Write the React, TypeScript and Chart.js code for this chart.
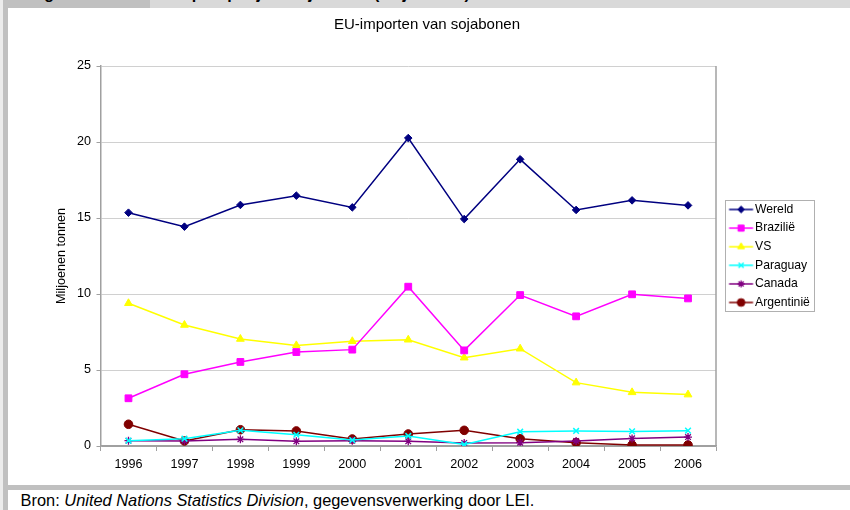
import React, { useEffect, useRef } from 'react';
import { Chart, registerables } from 'chart.js';
import { drawPoint } from 'chart.js/helpers';

Chart.register(...registerables);

// ---- data ----
const years = ['1996', '1997', '1998', '1999', '2000', '2001', '2002', '2003', '2004', '2005', '2006'];
const wereld = [15.35, 14.43, 15.86, 16.47, 15.7, 20.26, 14.93, 18.86, 15.53, 16.16, 15.83];
const brazilie = [3.14, 4.72, 5.53, 6.18, 6.34, 10.48, 6.29, 9.93, 8.53, 9.98, 9.71];
const vs = [9.39, 7.96, 7.04, 6.62, 6.89, 6.99, 5.81, 6.4, 4.17, 3.53, 3.38];
const paraguay = [0.35, 0.48, 1.03, 0.74, 0.39, 0.66, 0.1, 0.94, 0.99, 0.96, 1.01];
const canada = [0.35, 0.33, 0.44, 0.31, 0.35, 0.31, 0.2, 0.22, 0.33, 0.5, 0.59];
const argentinie = [1.43, 0.33, 1.07, 0.99, 0.46, 0.79, 1.03, 0.48, 0.22, 0.07, 0.07];
const seriesNames = ['Wereld', 'Brazilië', 'VS', 'Paraguay', 'Canada', 'Argentinië'];
const seriesValues = [wereld, brazilie, vs, paraguay, canada, argentinie];
const yMin = 0;
const yMax = 25;
const yStep = 5;
const chartTitle = 'EU-importen van sojabonen';
const yTitle = 'Miljoenen tonnen';

// ---- styles ----
const FONT = "'Liberation Sans', Arial, sans-serif";
const colors = ['#000080', '#ff00ff', '#ffff00', '#00ffff', '#800080', '#800000'];
const pointStyles = ['rectRot', 'rect', 'triangle', 'crossRot', 'star', 'circle'];
const pointRadii = [3.8, 4.8, 4.5, 4, 4, 4.3];
const pointBorders = [1, 1, 1, 1.5, 1.3, 1];

function legendImage(color: string, style: string, radius: number, bw: number) {
  const c = document.createElement('canvas');
  c.width = 40;
  c.height = 14;
  const ctx = c.getContext('2d')!;
  ctx.strokeStyle = color;
  ctx.fillStyle = color;
  ctx.lineWidth = 1.5;
  ctx.beginPath();
  ctx.moveTo(13.4, 7);
  ctx.lineTo(37.4, 7);
  ctx.stroke();
  ctx.lineWidth = bw;
  drawPoint(ctx, { pointStyle: style as any, radius: radius * 0.9, rotation: 0, borderWidth: bw } as any, 25.4, 7);
  return c;
}

const legendWidthPlugin = {
  id: 'legendWidth',
  beforeUpdate(chart: any) {
    const lg = chart.legend;
    if (!lg || lg.__patched) return;
    const orig = lg.fit.bind(lg);
    lg.fit = () => {
      orig();
      lg.width = 130;
    };
    lg.__patched = true;
  },
};

const framePlugin = {
  id: 'frame',
  beforeDatasetsDraw(chart: any) {
    const { ctx, chartArea: a } = chart;
    ctx.save();
    ctx.strokeStyle = '#a0a0a0';
    ctx.lineWidth = 1.5;
    ctx.beginPath();
    ctx.moveTo(a.right, a.top);
    ctx.lineTo(a.right, a.bottom);
    ctx.stroke();
    ctx.restore();
  },
  afterDraw(chart: any) {
    const hb = chart.legend && chart.legend.legendHitBoxes;
    if (!hb || !hb.length) return;
    const ctx = chart.ctx;
    const left = hb[0].left + 2.6;
    let right = 0;
    hb.forEach((h: any) => (right = Math.max(right, h.left + h.width)));
    right += 4;
    const top = hb[0].top - 3.4;
    const last = hb[hb.length - 1];
    const bottom = last.top + last.height + 2.4;
    ctx.save();
    ctx.strokeStyle = '#b0b0b0';
    ctx.lineWidth = 1;
    ctx.strokeRect(Math.round(left) + 0.5, Math.round(top) + 0.5, Math.round(right - left), Math.round(bottom - top));
    ctx.restore();
  },
};

export default function App() {
  const ref = useRef<HTMLCanvasElement>(null);

  useEffect(() => {
    document.body.style.margin = '0';
    const imgs = seriesNames.map((_, i) => legendImage(colors[i], pointStyles[i], pointRadii[i], pointBorders[i]));
    const chart = new Chart(ref.current!, {
      type: 'line',
      data: {
        labels: years,
        datasets: seriesNames.map((name, i) => ({
          label: name,
          data: seriesValues[i],
          borderColor: colors[i],
          backgroundColor: colors[i],
          borderWidth: 1.5,
          pointStyle: pointStyles[i] as any,
          pointRadius: pointRadii[i],
          pointBorderWidth: pointBorders[i],
          pointBackgroundColor: colors[i],
          pointBorderColor: colors[i],
          tension: 0,
          fill: false,
        })),
      },
      options: {
        animation: false,
        responsive: false,
        events: [],
        layout: { padding: { top: 0, left: 0, right: 4, bottom: 6 } },
        plugins: {
          title: {
            display: true,
            text: chartTitle,
            color: '#000',
            font: { family: FONT, size: 15, weight: 'normal', lineHeight: 1.2 },
            padding: { top: 8, bottom: 32 },
          },
          legend: {
            display: true,
            position: 'right',
            fullSize: false,
            align: 'center',
            labels: {
              usePointStyle: true,
              pointStyleWidth: 26.5,
              padding: 6.4,
              color: '#000',
              font: { family: FONT, size: 12.2 },
              generateLabels: (c: any) =>
                c.data.datasets.map((ds: any, i: number) => ({
                  text: ds.label,
                  pointStyle: imgs[i],
                  fillStyle: colors[i],
                  strokeStyle: colors[i],
                  lineWidth: 0,
                  hidden: false,
                  datasetIndex: i,
                  fontColor: '#000',
                })),
            },
          },
          tooltip: { enabled: false },
        },
        scales: {
          x: {
            type: 'category',
            offset: true,
            grid: {
              offset: true,
              drawOnChartArea: false,
              drawTicks: true,
              tickLength: 5,
              color: '#a0a0a0',
            },
            border: { display: true, color: '#a0a0a0', width: 1.5 },
            ticks: {
              color: '#000',
              font: { family: FONT, size: 12.6 },
              padding: 6.44,
              autoSkip: false,
              maxRotation: 0,
            },
          },
          y: {
            min: yMin,
            max: yMax,
            afterFit: (s: any) => {
              s.width = 92.5;
            },
            grid: {
              color: (ctx: any) => (ctx.tick && ctx.tick.value === 0 ? '#a0a0a0' : '#d0d0d0'),
              tickColor: '#a0a0a0',
              tickLength: 4,
              drawTicks: true,
            },
            border: { display: true, color: '#a0a0a0', width: 1.5 },
            ticks: {
              stepSize: yStep,
              color: '#000',
              font: { family: FONT, size: 12.6 },
              padding: 5.5,
            },
            title: {
              display: true,
              text: yTitle,
              color: '#000',
              font: { family: FONT, size: 12.6 },
              padding: { top: 46.4, bottom: 0 },
            },
          },
        },
      },
      plugins: [legendWidthPlugin, framePlugin],
    } as any);
    return () => chart.destroy();
  }, []);

  return (
    <div
      style={{
        position: 'fixed',
        left: 0,
        top: 0,
        width: 850,
        height: 510,
        background: '#c0c0c0',
        overflow: 'hidden',
      }}
    >
      <div style={{ position: 'absolute', left: 0, top: 0, width: 3, height: 510, background: '#ececec' }} />
      <div
        style={{
          position: 'absolute',
          left: 3,
          top: 0,
          width: 130,
          height: 8,
          overflow: 'hidden',
        }}
      >
        <div
          style={{
            position: 'absolute',
            left: 27,
            top: -15,
            whiteSpace: 'nowrap',
            font: "bold 16px 'Liberation Sans', Arial, sans-serif",
            lineHeight: '17px',
            color: '#000',
          }}
        >
          Figuur 2.3
        </div>
      </div>
      <div
        style={{
          position: 'absolute',
          left: 150,
          top: 0,
          width: 700,
          height: 8,
          background: '#d9d9d9',
          overflow: 'hidden',
        }}
      >
        <div
          style={{
            position: 'absolute',
            left: 23,
            top: -15,
            whiteSpace: 'nowrap',
            font: "bold 16px 'Liberation Sans', Arial, sans-serif",
            lineHeight: '17px',
            color: '#000',
          }}
        >
          Import per jaar sojabonen (miljoen ton)
        </div>
      </div>
      <div style={{ position: 'absolute', left: 8, top: 8, width: 842, height: 477, background: '#fff' }}>
        <canvas ref={ref} width={842} height={477} style={{ display: 'block', width: 842, height: 477 }} />
      </div>
      <div
        style={{
          position: 'absolute',
          left: 8,
          top: 490,
          width: 842,
          height: 20,
          background: '#fff',
        }}
      >
        <div
          style={{
            position: 'absolute',
            left: 12.6,
            top: 0,
            whiteSpace: 'nowrap',
            fontFamily: FONT,
            fontSize: 16.4,
            lineHeight: '20px',
            color: '#000',
          }}
        >
          Bron: <i>United Nations Statistics Division</i>, gegevensverwerking door LEI.
        </div>
      </div>
    </div>
  );
}
